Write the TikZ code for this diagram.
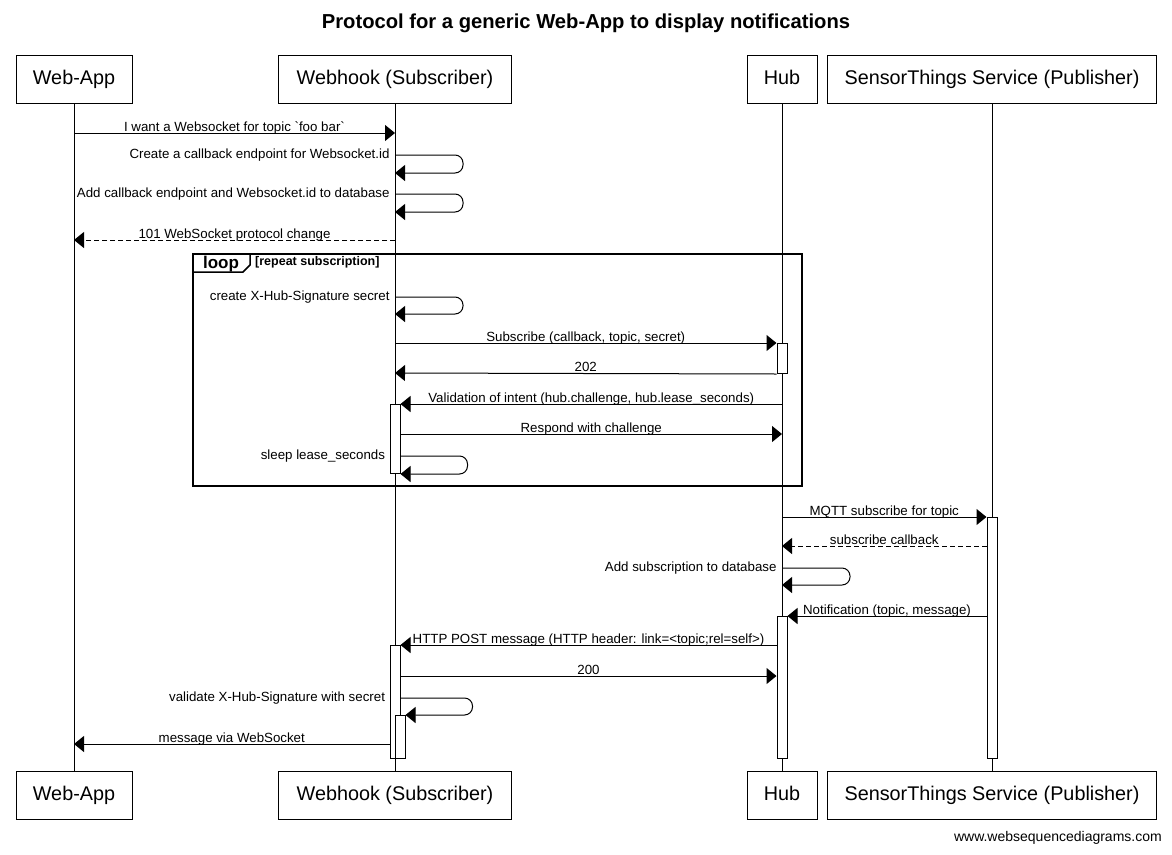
\documentclass[tikz,border=0pt]{standalone}
\usepackage{fontspec}
\setmainfont{Liberation Sans}
\usepackage{tikz}
\usetikzlibrary{positioning,shapes,arrows.meta}

\begin{document}
\begin{tikzpicture}[x=1pt,y=-1pt]
\tikzstyle{every node}+=[inner sep=0pt]
\tikzstyle{actor}=[draw, line width=1pt, minimum height=48pt, text height=14.5pt, text depth=4pt, font=\fontsize{19.8}{22}\selectfont]
\tikzstyle{lbl}=[font=\fontsize{13.3}{15}\selectfont]
\tikzstyle{self}=[lbl, text height=9.5pt, text depth=2.5pt]
\tikzstyle{msg}=[line width=1pt, -{Triangle[length=10pt,width=16pt]}]
\tikzstyle{reply}=[msg, dash pattern=on 5pt off 3pt]
\tikzstyle{act}=[draw, fill=white, line width=1pt, minimum width=10pt]
\useasboundingbox (0,0) rectangle (1172,854);
\node[font=\bfseries\fontsize{20.2}{24}\selectfont] (title) at (586,23) {Protocol for a generic Web-App to display notifications};
% participants
\node[actor, minimum width=116pt] (appT) at (74,79) {Web-App};
\node[actor, minimum width=233pt] (hookT) at (395,79) {Webhook (Subscriber)};
\node[actor, minimum width=70pt] (hubT) at (782,79) {Hub};
\node[actor, minimum width=329pt] (sensT) at (992,79) {SensorThings Service (Publisher)};
\node[actor, minimum width=116pt] (appB) at (74,795) {Web-App};
\node[actor, minimum width=233pt] (hookB) at (395,795) {Webhook (Subscriber)};
\node[actor, minimum width=70pt] (hubB) at (782,795) {Hub};
\node[actor, minimum width=329pt] (sensB) at (992,795) {SensorThings Service (Publisher)};
\draw[line width=1pt] (appT) -- (appB);
\draw[line width=1pt] (hookT) -- (hookB);
\draw[line width=1pt] (hubT) -- (hubB);
\draw[line width=1pt] (sensT) -- (sensB);
% loop frame
\draw[line width=2pt] (193,254) rectangle (802,486);
\draw[line width=1.5pt] (193,254) -- (250,254) -- (250,265) -- (243,272) -- (193,272);
\node[font=\bfseries\fontsize{17}{20}\selectfont] (loop) at (221,264) {loop};
\node[font=\bfseries\fontsize{12.5}{15}\selectfont, anchor=west] (cond) at (255,262) {[repeat subscription]};
% activations
\node[act, minimum height=30pt, anchor=north] (hubA1) at (782,343) {};
\node[act, minimum height=69pt, anchor=north] (hookA1) at (395,404) {};
\node[act, minimum height=241pt, anchor=north] (sensA) at (992,517) {};
\node[act, minimum height=142pt, anchor=north] (hubA2) at (782,616) {};
\node[act, minimum height=113pt, anchor=north] (hookA2) at (395,645) {};
\node[act, minimum height=43pt, anchor=north] (hookA3) at (400,715) {};
% messages
\draw[msg] (appT |- 0,133) -- (hookT |- 0,133) node[lbl, midway, anchor=base, yshift=2pt] (m1) {I want a Websocket for topic \textasciigrave foo bar\textasciigrave};
\draw[msg, rounded corners=8pt] (hookT |- 0,155) node[self, left=5pt] (m2) {Create a callback endpoint for Websocket.id} -- ++(68,0) |- (hookT |- 0,173);
\draw[msg, rounded corners=8pt] (hookT |- 0,194) node[self, left=5pt] (m3) {Add callback endpoint and Websocket.id to database} -- ++(68,0) |- (hookT |- 0,212);
\draw[reply] (hookT |- 0,240) -- (appT |- 0,240) node[lbl, midway, anchor=base, yshift=2pt] (m4) {101 WebSocket protocol change};
\draw[msg, rounded corners=8pt] (hookT |- 0,297) node[self, left=5pt] (m5) {create X-Hub-Signature secret} -- ++(68,0) |- (hookT |- 0,314);
\draw[msg] (hookT |- 0,343) -- (hubA1.north west) node[lbl, midway, anchor=base, yshift=2pt] (m6) {Subscribe (callback, topic, secret)};
\draw[msg] (hubA1.south west) -- (hookT |- 0,373) node[lbl, midway, anchor=base, yshift=2pt] (m7) {202};
\draw[msg] (hubT |- 0,404) -- (hookA1.north east) node[lbl, midway, anchor=base, yshift=2pt] (m8) {Validation of intent (hub.challenge, hub.lease\_seconds)};
\draw[msg] (hookA1.east |- 0,434) -- (hubT |- 0,434) node[lbl, midway, anchor=base, yshift=2pt] (m9) {Respond with challenge};
\draw[msg, rounded corners=8pt] (hookA1.east |- 0,456) node[self, left=15pt] (m10) {sleep lease\_seconds} -- ++(67,0) |- (hookA1.south east);
\draw[msg] (hubT |- 0,517) -- (sensA.north west) node[lbl, midway, anchor=base, yshift=2pt] (m11) {MQTT subscribe for topic};
\draw[reply] (sensA.west |- 0,546) -- (hubT |- 0,546) node[lbl, midway, anchor=base, yshift=2pt] (m12) {subscribe callback};
\draw[msg, rounded corners=8pt] (hubT |- 0,568) node[self, left=5pt] (m13) {Add subscription to database} -- ++(68,0) |- (hubT |- 0,585);
\draw[msg] (sensA.west |- 0,616) -- (hubA2.north east) node[lbl, midway, anchor=base, yshift=2pt] (m14) {Notification (topic, message)};
\draw[msg] (hubA2.west |- 0,645) -- (hookA2.north east) node[lbl, midway, anchor=base, yshift=2pt] (m15) {HTTP POST message (HTTP header: link=<topic;rel=self>)};
\draw[msg] (hookA2.east |- 0,676) -- (hubA2.west |- 0,676) node[lbl, midway, anchor=base, yshift=2pt] (m16) {200};
\draw[msg, rounded corners=8pt] (hookA2.east |- 0,698) node[self, left=15pt] (m17) {validate X-Hub-Signature with secret} -- ++(72,0) |- (hookA3.north east);
\draw[msg] (hookA2.west |- 0,744) -- (appT |- 0,744) node[lbl, midway, anchor=base, yshift=2pt] (m18) {message via WebSocket};
\node[font=\fontsize{14}{16}\selectfont, anchor=east] (web) at (1162,838) {www.websequencediagrams.com};
\end{tikzpicture}
\end{document}
